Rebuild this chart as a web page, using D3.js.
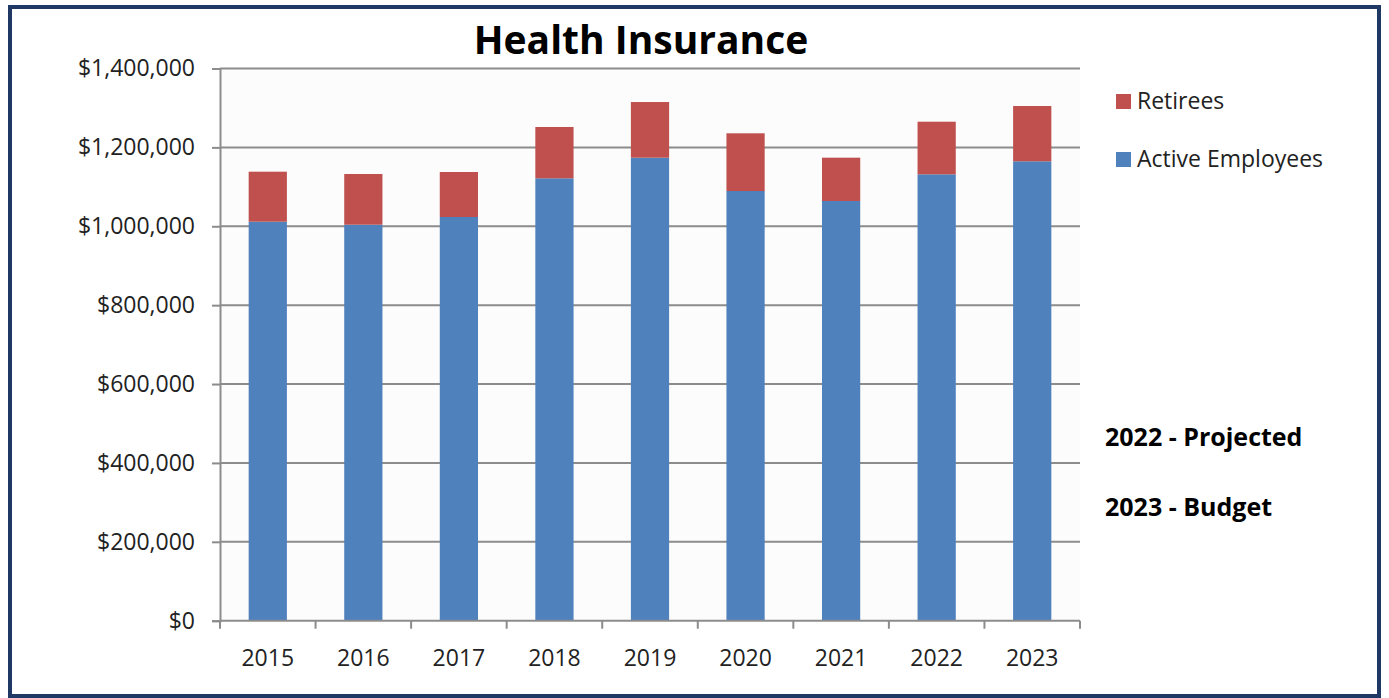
<!DOCTYPE html>
<html>
<head>
<meta charset="utf-8">
<script src="https://cdn.jsdelivr.net/npm/d3@7"></script>
<style>
    body { margin: 0; background: #fff; }
    text { font-family: "Open Sans", "Noto Sans", sans-serif; fill: #222; }
</style>
</head>
<body>
<div id="chart"></div>
<script>
// data
const years = ["2015", "2016", "2017", "2018", "2019", "2020", "2021", "2022", "2023"]
const activeEmployees = [1011600, 1004000, 1023500, 1121600, 1173900, 1089400, 1064100, 1131700, 1164700]
const retirees = [126800, 128500, 114100, 130100, 141100, 146300, 109800, 133400, 140200]
const yTicks = [0, 200000, 400000, 600000, 800000, 1000000, 1200000, 1400000]
const seriesNames = ["Retirees", "Active Employees"]
const notes = ["2022 - Projected", "2023 - Budget"]

const W = 1389, H = 698
const margin = { top: 68.5, right: 309, bottom: 77.3, left: 220 }
const width = W - margin.left - margin.right,
    height = H - margin.top - margin.bottom

const svg = d3.select("#chart")
    .append("svg")
    .attr("width", W)
    .attr("height", H)

// frame
svg.append("rect")
    .attr("x", 10).attr("y", 7)
    .attr("width", W - 20).attr("height", H - 9)
    .attr("fill", "#fff")
    .attr("stroke", "#1f3864")
    .attr("stroke-width", 4)

const g = svg.append("g")
    .attr("transform", "translate(" + margin.left + "," + margin.top + ")")

g.append("rect")
    .attr("width", width).attr("height", height)
    .attr("fill", "#fcfcfc")

const x = d3.scaleBand().domain(years).range([0, width]).paddingInner(0.6).paddingOuter(0.3)
const y = d3.scaleLinear().domain([0, 1400000]).range([height, 0])

const data = years.map((yr, i) => ({ year: yr, active: activeEmployees[i], retirees: retirees[i] }))
const stack = d3.stack().keys(["active", "retirees"])(data)
const colors = { active: "#4f81bd", retirees: "#c0504d" }

// gridlines
g.append("g")
    .selectAll("line")
    .data(yTicks.slice(1))
    .join("line")
    .attr("x1", 0).attr("x2", width)
    .attr("y1", d => y(d)).attr("y2", d => y(d))
    .attr("stroke", "#8c8c8c")
    .attr("stroke-width", 2)

// bars
g.selectAll(".series")
    .data(stack)
    .join("g")
    .attr("fill", d => colors[d.key])
    .selectAll("rect")
    .data(d => d)
    .join("rect")
    .attr("x", d => x(d.data.year))
    .attr("width", x.bandwidth())
    .attr("y", d => y(d[1]))
    .attr("height", d => y(d[0]) - y(d[1]))

// axes
const fmt = d => "$" + d3.format(",")(d)
const yAxis = d3.axisLeft(y).tickValues(yTicks).tickFormat(fmt).tickSize(8).tickPadding(17)
g.append("g")
    .attr("class", "axis y-axis")
    .call(yAxis)

const xBorders = d3.scaleLinear().domain([0, years.length]).range([0, width])
const xAxisG = g.append("g")
    .attr("class", "axis x-axis")
    .attr("transform", "translate(0," + height + ")")
xAxisG.append("line")
    .attr("x1", 0).attr("x2", width)
    .attr("stroke", "#8c8c8c").attr("stroke-width", 2)
xAxisG.selectAll(".tk")
    .data(d3.range(years.length + 1))
    .join("line")
    .attr("x1", d => xBorders(d)).attr("x2", d => xBorders(d))
    .attr("y1", 0).attr("y2", 8)
    .attr("stroke", "#8c8c8c").attr("stroke-width", 2)
xAxisG.selectAll("text")
    .data(years)
    .join("text")
    .attr("x", d => x(d) + x.bandwidth() / 2)
    .attr("y", 45)
    .attr("text-anchor", "middle")
    .style("font-size", "23px")
    .text(d => d)

g.selectAll(".y-axis .domain").attr("stroke", "#8c8c8c").attr("stroke-width", 2)
g.selectAll(".y-axis .tick line").attr("stroke", "#8c8c8c").attr("stroke-width", 2)
g.selectAll(".y-axis .tick text").style("font-size", "23px").style("fill", "#222")

// title
svg.append("text")
    .attr("x", 641).attr("y", 54)
    .attr("text-anchor", "middle")
    .style("font-size", "39px")
    .style("font-weight", "bold")
    .style("fill", "#000")
    .text("Health Insurance")

// legend
const legend = svg.append("g").attr("transform", "translate(1116,0)")
const legendColors = [colors.retirees, colors.active]
const legendY = [101, 159]
seriesNames.forEach((name, i) => {
    legend.append("rect")
        .attr("x", 0).attr("y", legendY[i] - 7)
        .attr("width", 15).attr("height", 15)
        .attr("fill", legendColors[i])
    legend.append("text")
        .attr("x", 21).attr("y", legendY[i] + 8)
        .style("font-size", "23px")
        .text(name)
})

// notes
const noteY = [446, 516]
notes.forEach((t, i) => {
    svg.append("text")
        .attr("x", 1105).attr("y", noteY[i])
        .style("font-size", "25px")
        .style("font-weight", "bold")
        .style("fill", "#000")
        .text(t)
})
</script>
</body>
</html>
